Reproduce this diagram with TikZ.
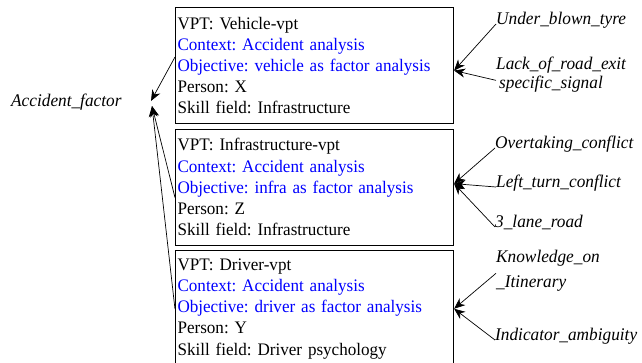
\documentclass[tikz,border=0pt]{standalone}
\usepackage{fontspec}
\setmainfont{Liberation Serif}[FakeStretch = 0.97]
\usetikzlibrary{positioning,arrows.meta}

\tikzstyle{vpt}=[draw, line width = 1.1pt, text width = 274pt, minimum height = 116pt,
  inner xsep = 2pt, inner ysep = 0pt, align = left,
  font = \fontsize{17.6}{21.2}\selectfont\frenchspacing]
\tikzstyle{factor}=[inner sep = 0pt, align = left, font = \fontsize{17.8}{19}\selectfont\itshape]
\tikzstyle{link}=[line width = 0.7pt, -{Stealth[length = 11pt, width = 9pt, inset = 3.5pt]}]

\begin{document}
\begin{tikzpicture}[x = 1pt, y = -1pt]
\useasboundingbox (0,0) rectangle (642,362);
\draw (175,7) node[vpt, anchor = north west](vehvpt){VPT: Vehicle-vpt\\
  \textcolor{blue}{Context: Accident analysis}\\
  \textcolor{blue}{Objective: vehicle as factor analysis}\\
  Person: X\\ Skill field: Infrastructure};
\node[vpt, below = 4.5pt of vehvpt](infravpt){VPT: Infrastructure-vpt\\
  \textcolor{blue}{Context: Accident analysis}\\
  \textcolor{blue}{Objective: infra as factor analysis}\\
  Person: Z\\ Skill field: Infrastructure};
\node[vpt, below = 4.5pt of infravpt](drivervpt){VPT: Driver-vpt\\
  \textcolor{blue}{Context: Accident analysis}\\
  \textcolor{blue}{Objective: driver as factor analysis}\\
  Person: Y\\ Skill field: Driver psychology};
%
\draw (11,106) node[factor, anchor = base west](accident){Accident\_factor};
\coordinate (factortip) at (151,101);
\coordinate (factortip2) at (152,106);
\draw[link] ([yshift = -50pt]vehvpt.north west) -- (factortip);
\draw[link] ([yshift = -69pt]infravpt.north west) -- (factortip2);
\draw[link] ([yshift = -59pt]drivervpt.north west) -- (factortip2);
%
\draw (496,24) node[factor, anchor = base west](underblown){Under\_blown\_tyre};
\draw (496,56.5) node[factor, anchor = north west](roadexit)
  {Lack\_of\_road\_exit\\\hspace*{3pt}specific\_signal};
\draw[link] (underblown.base west) -- ([yshift = -5pt]vehvpt.east);
\draw[link] ([yshift = -6pt]roadexit.west) -- ([yshift = -5pt]vehvpt.east);
%
\draw (495,148) node[factor, anchor = base west](overtaking){Overtaking\_conflict};
\draw (496,187) node[factor, anchor = base west](leftturn){Left\_turn\_conflict};
\draw (495,227) node[factor, anchor = base west](threelane){3\_lane\_road};
\draw[link] (overtaking.base west) -- ([yshift = 3.5pt]infravpt.east);
\draw[link] (leftturn.base west) -- ([yshift = 3.5pt]infravpt.east);
\draw[link] (threelane.base west) -- ([yshift = 3.5pt]infravpt.east);
%
\draw (496,249.5) node[factor, anchor = north west](itinerary)
  {Knowledge\_on\\[6pt]\_Itinerary};
\draw (495,340) node[factor, anchor = base west](indicator){Indicator\_ambiguity};
\draw[link] ([yshift = -3pt]itinerary.west) -- (drivervpt.east);
\draw[link] (indicator.base west) -- (drivervpt.east);
\end{tikzpicture}
\end{document}
